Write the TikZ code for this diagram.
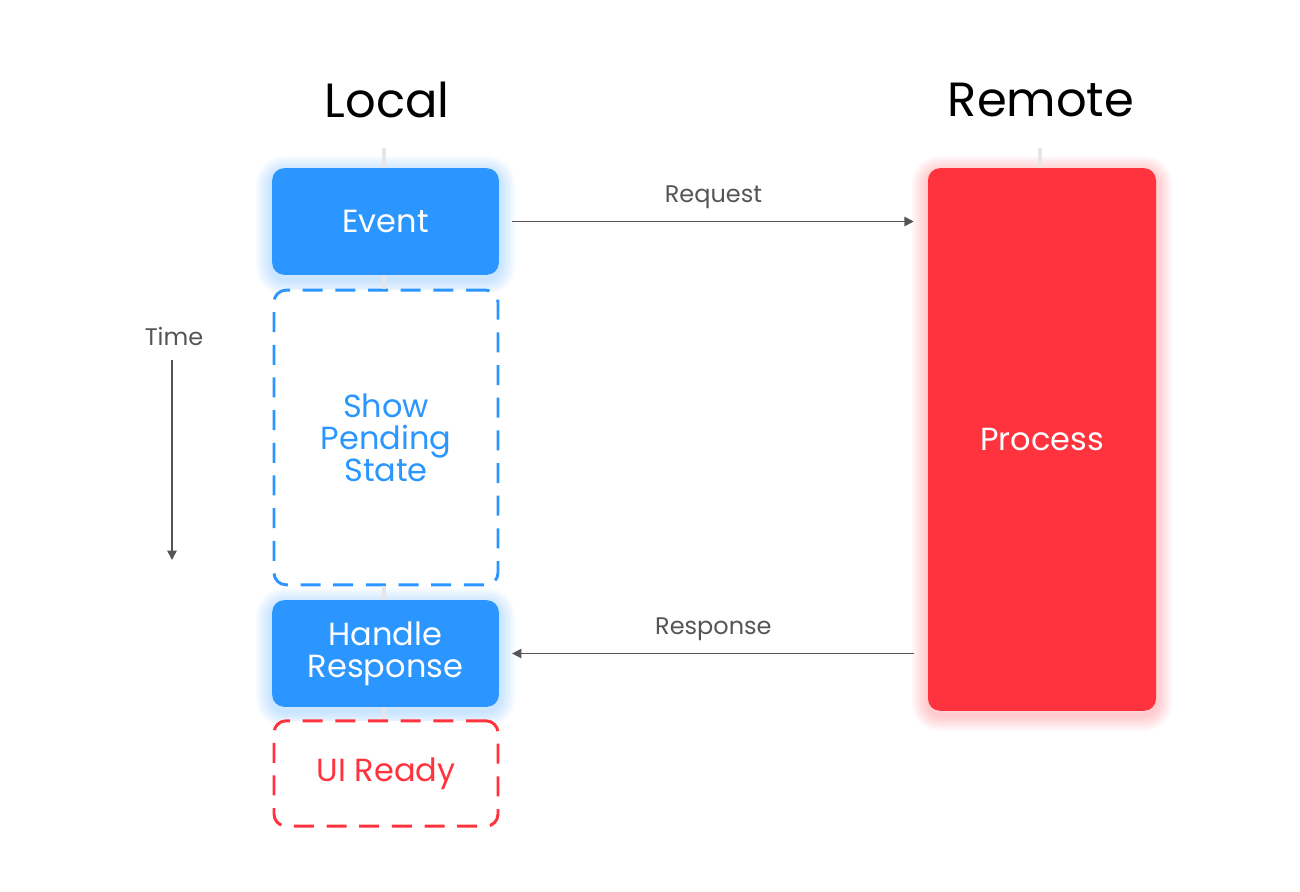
\documentclass[tikz,border=0pt]{standalone}
\usepackage{fontspec}
\setmainfont{Poppins}
\usetikzlibrary{arrows.meta,positioning}
\definecolor{localblue}{HTML}{2B96FF}
\definecolor{remotered}{HTML}{FF333D}
\definecolor{arrowgray}{HTML}{555555}
\definecolor{lifegray}{HTML}{E6E6E6}
\tikzset{
  title/.style={font=\fontsize{36}{40}\selectfont},
  glowring/.style 2 args={preaction={draw=#1, line width=#2, draw opacity=0.035,
    transform canvas={yshift=-3pt}}},
  glow/.style={glowring={#1}{24pt}, glowring={#1}{21pt}, glowring={#1}{18pt},
    glowring={#1}{15pt}, glowring={#1}{12pt}, glowring={#1}{9pt},
    glowring={#1}{6pt}, glowring={#1}{3pt}},
  solidbox/.style={fill=#1, rounded corners=9pt, text=white, align=center,
    inner sep=0pt, font=\fontsize{24}{24}\selectfont, glow=#1},
  pendingbox/.style={draw=#1, fill=white, line width=2.2pt,
    dash pattern=on 15pt off 9.5pt, rounded corners=9pt, text=#1, align=center,
    inner sep=0pt, font=\fontsize{24}{24}\selectfont},
  msg/.style={-{Triangle[length=7pt,width=7pt]}, arrowgray, line width=1.2pt},
  msglabel/.style={text=arrowgray, font=\fontsize{18}{20}\selectfont},
  lifeline/.style={lifegray, line width=3pt}
}
\begin{document}
\begin{tikzpicture}[x=0.75pt,y=-0.75pt]

		\useasboundingbox (0,0) rectangle (1300,892);
		
		% lane titles
		\node[title] (localtitle) at (387,100) {Local};
		\node[title] (remotetitle) at (1041,100) {Remote};
		\coordinate (localtop) at (384,148);
		\coordinate (remotetop) at (1040,148);
		
		% boxes
		\node[solidbox=localblue, minimum width=170pt, minimum height=80pt] (event) at (385.5,221.5) {Event};
		\node[pendingbox=localblue, minimum width=168pt, minimum height=221pt] (pending) at (386,437.5) {Show\\Pending\\State};
		\node[solidbox=localblue, minimum width=170pt, minimum height=80pt] (handle) at (385.5,653.5) {Handle\\Response};
		\node[pendingbox=remotered, minimum width=168pt, minimum height=79pt] (uiready) at (386,773.5) {UI Ready};
		\node[solidbox=remotered, minimum width=171pt, minimum height=407pt] (process) at (1042,439.5) {Process};
		
		% lifelines
		\draw[lifeline] (localtop) -- (event.north -| localtop);
		\draw[lifeline] (event.south -| localtop) -- (pending.north -| localtop);
		\draw[lifeline] (pending.south -| localtop) -- (handle.north -| localtop);
		\draw[lifeline] (handle.south -| localtop) -- (uiready.north -| localtop);
		\draw[lifeline] (remotetop) -- (process.north -| remotetop);
		
		% messages
		\draw[msg, shorten <=9.75pt, shorten >=10.5pt] (event.east) -- (event.east -| process.west)
			node[msglabel, midway, above=6pt] (reqlabel) {Request};
		\draw[msg, shorten <=10.5pt, shorten >=9.75pt] (handle.east -| process.west) -- (handle.east)
			node[msglabel, midway, above=6pt] (resplabel) {Response};
		
		% time axis
		\node[msglabel] (time) at (174,336) {Time};
		\coordinate (timestart) at (172,360);
		\coordinate (timeend) at (172,560);
		\draw[msg] (timestart) -- (timeend);
		
	\end{tikzpicture}
\end{document}
